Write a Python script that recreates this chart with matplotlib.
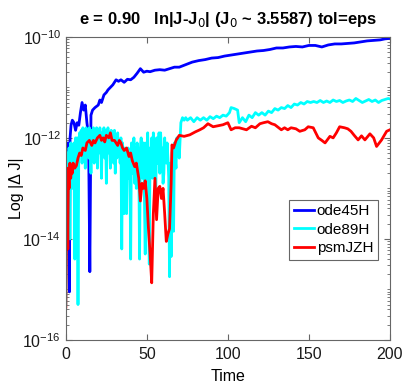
import numpy as np
import matplotlib
matplotlib.use("Agg")
import matplotlib.pyplot as plt
from matplotlib.ticker import LogLocator, NullFormatter

# values, stored as log10 of |J - J0|
t_ode45 = [0.0, 0.3, 0.7, 1.2, 1.7, 2.2, 2.6, 3.2, 4.0, 5.0, 6.0, 7.0, 8.0, 9.0, 10.0,
           11.0, 12.0, 13.0, 14.0, 14.8, 15.5, 16.5, 18, 20, 21, 22, 23.5, 25, 26, 27.5,
           29, 30, 31, 32.5, 34, 36, 38, 40, 42, 44, 46, 48, 50, 52, 55, 58, 61, 64, 67,
           70, 74, 78, 82, 86, 90, 94, 98, 102, 106, 110, 114, 118, 122, 126, 130, 134,
           138, 142, 146, 150, 154, 158, 162, 166, 170, 174, 178, 182, 186, 190, 194,
           197, 200]
e_ode45 = [-12.8, -13.5, -12.3, -12.1, -14.0, -15.05, -12.0, -11.75, -11.65, -11.7, -11.85,
           -11.7, -11.75, -11.5, -11.3, -11.45, -11.35, -11.7, -11.95, -14.65, -11.55,
           -11.45, -11.4, -11.35, -11.25, -11.3, -11.15, -11.1, -11.05, -11.0, -10.95,
           -10.9, -10.85, -10.88, -10.85, -10.9, -10.84, -10.85, -10.8, -10.72, -10.63,
           -10.7, -10.68, -10.69, -10.66, -10.65, -10.66, -10.63, -10.6, -10.6, -10.55,
           -10.5, -10.47, -10.45, -10.42, -10.41, -10.38, -10.36, -10.34, -10.32, -10.3,
           -10.28, -10.27, -10.25, -10.22, -10.22, -10.2, -10.19, -10.2, -10.17, -10.17,
           -10.2, -10.16, -10.14, -10.14, -10.13, -10.12, -10.1, -10.08, -10.07, -10.06,
           -10.04, -10.03]

t_ode89 = [0.0, 0.5, 1.0, 1.5, 2.0, 2.5, 3.0, 3.5, 4.0, 4.5, 5.0, 5.5, 6.0, 6.5, 7.0, 7.5,
           8.0,
           8.5, 9.0, 9.5, 10.0, 10.5, 11.0, 11.5, 12.0, 12.5, 13.0,
           13.5, 14.0, 14.5, 15.0, 15.5, 16.0, 16.5, 17.0, 17.5, 18.0,
           18.5, 19.0, 19.5, 20.0, 20.5, 21.0, 21.5, 22.0, 22.5, 23.0,
           23.5, 24.0, 24.5, 25.0, 25.5, 26.0, 26.5, 27.0, 27.5, 28.0,
           28.5, 29.0, 29.5, 30.0, 30.5, 31.0, 31.5, 32.0, 32.5, 33.0,
           33.5, 34.0, 34.5, 35.0, 35.5, 36.0, 36.5, 37.0, 37.5, 38.0,
           38.5, 39.0, 39.5, 40.0, 40.5, 41.0, 41.5, 42.0, 42.5, 43.0,
           43.5, 44.0, 44.5, 45.0, 45.5, 46.0, 46.5, 47.0, 47.5, 48.0,
           48.5, 49.0, 49.5, 50.0, 50.5, 51.0, 51.5, 52.0, 52.5, 53.0,
           53.5, 54.0, 54.5, 55.0, 55.5, 56.0, 56.5, 57.0, 57.5, 58.0,
           58.5, 59.0, 59.5, 60.0, 60.5, 61.0, 61.5, 62.0, 62.5, 63.0,
           63.5, 64.0, 64.5, 65.0, 65.5, 66.0, 66.5, 67.0, 67.5, 68.0,
           68.5, 69.0, 69.5, 70.0,
           71, 72, 73, 74, 75,
           77, 79, 81, 83, 85, 87, 89, 91, 93, 95, 97, 99, 101, 102, 104, 106, 107, 109,
           111, 113, 115, 117, 119, 121, 123, 125, 127, 129, 131, 133, 135, 137, 139, 141,
           143, 145, 147, 149, 151, 153, 155, 157, 159, 161, 163, 165, 167, 169, 171, 173,
           175, 177, 179, 181, 183, 185, 187, 189, 191, 193, 195, 197, 199, 200]
e_ode89 = [-15.3, -12.6, -12.3, -13.9, -12.2, -14.0, -12.1, -12.3, -13.0, -12.2, -12.1,
           -14.4, -12.0, -12.2, -12.0, -15.3, -12.1,
           -11.9, -12.3, -11.85, -12.5, -11.8, -12.1, -11.9, -12.6, -11.8, -12.2,
           -11.85, -12.4, -11.8, -12.0, -12.7, -11.85, -12.2, -11.8, -12.5, -11.9,
           -12.1, -11.8, -12.6, -11.85, -12.3, -11.8, -12.0, -12.8, -11.9, -12.2,
           -11.8, -12.4, -11.85, -12.9, -12.0, -11.8, -12.3, -11.9, -12.6, -11.85,
           -12.2, -11.9, -12.5, -11.85, -12.7, -12.0, -12.4, -11.9, -12.3, -12.1,
           -12.5, -12.0, -14.2, -12.1, -12.6, -13.5, -12.2, -12.4, -13.5, -12.3,
           -12.2, -12.8, -12.3, -14.4, -12.1, -12.5, -12.7, -12.0, -12.9, -12.2,
           -13.0, -12.1, -12.4, -12.3, -14.4, -12.2, -12.0, -12.6, -12.8, -12.1,
           -13.2, -14.3, -12.1, -12.4, -11.9, -12.6, -14.5, -12.2, -12.6, -12.0,
           -12.8, -11.9, -12.3, -12.6, -13.1, -12.0, -12.5, -12.4, -11.9, -12.7,
           -11.9, -12.3, -12.2, -12.9, -12.7, -12.0, -12.4, -12.5, -12.1, -12.4,
           -12.8, -14.75, -12.5, -14.35, -12.3, -12.2, -13.85, -12.1, -12.4, -12.6,
           -12.0, -12.3, -12.0, -12.4,
           -11.7, -11.6, -11.65, -11.6, -11.65,
           -11.6, -11.68, -11.6, -11.65, -11.6, -11.65, -11.58,
           -11.62, -11.57, -11.6, -11.55, -11.57, -11.5, -11.4, -11.42, -11.45, -11.7,
           -11.6, -11.68, -11.55, -11.6, -11.5, -11.55, -11.5, -11.55, -11.47, -11.5, -11.42,
           -11.45, -11.4, -11.42, -11.36, -11.4, -11.33, -11.35, -11.3, -11.33, -11.28,
           -11.3, -11.28, -11.3, -11.26, -11.3, -11.27, -11.3, -11.25, -11.28, -11.26,
           -11.3, -11.27, -11.25, -11.28, -11.22, -11.26, -11.3, -11.27, -11.24, -11.28,
           -11.25, -11.3, -11.26, -11.24, -11.22, -11.23]

t_psm = [0.0, 0.4, 0.8, 1.2, 1.6, 2.0, 2.5, 3.0, 3.5, 4.0, 4.5, 5.5, 6.5, 7.5, 8.5, 9.5,
         10.5, 12, 13, 14.5, 16, 17, 18, 19.5, 21, 22, 23, 24, 25, 26.5, 27.5, 28.5, 30,
         31, 32, 33, 34, 35, 36, 37.5, 39, 40, 41, 42.5, 43.5, 45, 46, 47, 48, 49, 50, 51,
         52, 53, 54, 55, 56, 57, 58, 59, 60, 61, 62, 63, 64, 65, 65.5, 66.5, 68, 70, 73,
         76.5, 80, 82.7, 85, 87.7, 90.9, 94, 97, 100, 102, 104.5, 107, 111.5, 114.6,
         117, 119.8, 122, 124.7, 127, 129, 133, 135, 137, 139, 142, 144.4, 147.5, 149.6,
         152.7, 155.8, 158, 160, 163, 165, 167, 169, 172, 174, 176, 178, 180.4, 182.5,
         184.6, 187.7, 190, 191.8, 194.9, 198, 200]
e_psm = [-15.35, -14.0, -12.6, -14.2, -12.7, -13.0, -12.5, -12.8, -12.6, -12.7, -12.5,
         -12.6, -12.55, -12.4, -12.3, -12.35, -12.2, -12.25, -12.1, -12.05, -12.15, -12.05,
         -12.1, -12.0, -11.95, -12.05, -12.0, -12.08, -11.95, -12.0, -11.9, -12.05, -12.05,
         -12.1, -12.15, -12.05, -12.1, -12.2, -12.25, -12.2, -12.37, -12.3, -12.45, -12.57,
         -12.5, -12.8, -13.25, -12.9, -13.0, -12.85, -13.2, -13.8, -14.3, -14.87, -13.5,
         -12.8, -13.62, -13.0, -12.96, -13.2, -13.0, -13.5, -14.05, -13.9, -13.8, -12.9,
         -12.14, -12.2, -12.05, -11.95, -11.97, -11.94, -11.88, -11.84, -11.8, -11.72,
         -11.78, -11.76, -11.74, -11.7, -11.84, -11.8, -11.8, -11.84, -11.77, -11.8,
         -11.72, -11.7, -11.68, -11.72, -11.74, -11.84, -11.8, -11.84, -11.8, -11.82,
         -11.87, -11.84, -11.78, -11.8, -12.0, -12.05, -12.1, -11.97, -12.0, -11.9, -11.78,
         -11.8, -11.82, -11.87, -11.95, -12.04, -11.96, -12.04, -11.92, -12.0, -12.17,
         -12.04, -11.87, -11.84]

plt.rcParams['font.family'] = ['Liberation Sans', 'DejaVu Sans']

fig = plt.figure(figsize=(4.04, 3.88), dpi=100)
ax = fig.add_axes([0.163, 0.124, 0.802, 0.781])

ax.plot(t_ode45, 10.0 ** np.array(e_ode45), color=(0, 0, 1), lw=2, label='ode45H')
ax.plot(t_ode89, 10.0 ** np.array(e_ode89), color=(0, 1, 1), lw=2, label='ode89H')
ax.plot(t_psm, 10.0 ** np.array(e_psm), color=(1, 0, 0), lw=2, label='psmJZH')

ax.set_yscale('log')
ax.set_xlim(0, 200)
ax.set_ylim(1e-16, 1e-10)
ax.set_xticks([0, 50, 100, 150, 200])
ax.set_yticks([1e-16, 1e-14, 1e-12, 1e-10])
ax.yaxis.set_minor_locator(LogLocator(base=10, subs=np.arange(1, 10), numticks=30))
ax.yaxis.set_minor_formatter(NullFormatter())

for s in ax.spines.values():
    s.set_color('0.4')
    s.set_linewidth(0.8)
ax.tick_params(which='both', direction='in', top=True, right=True, color='0.4',
               labelsize=11.5, labelcolor='0.1')
ax.tick_params(which='major', length=4)
ax.tick_params(which='minor', length=2)
ax.tick_params(axis='x', pad=5)

ax.set_xlabel('Time', fontsize=11.5, labelpad=5)
ax.set_ylabel('Log |\u0394 J|', fontsize=11.5, labelpad=-1)
ax.set_title('e = 0.90   ln|J-J$_0$| (J$_0$ ~ 3.5587) tol=eps',
             fontsize=12, fontweight='bold', pad=9)

leg = ax.legend(loc='lower right', bbox_to_anchor=(0.963, 0.264), fontsize=11,
                fancybox=False, edgecolor='0.4', framealpha=1, handlelength=1.3,
                handletextpad=0.2, borderpad=0.3, labelspacing=0.3, borderaxespad=0)
leg.get_frame().set_linewidth(0.8)

fig.savefig('out.png', dpi=100)
